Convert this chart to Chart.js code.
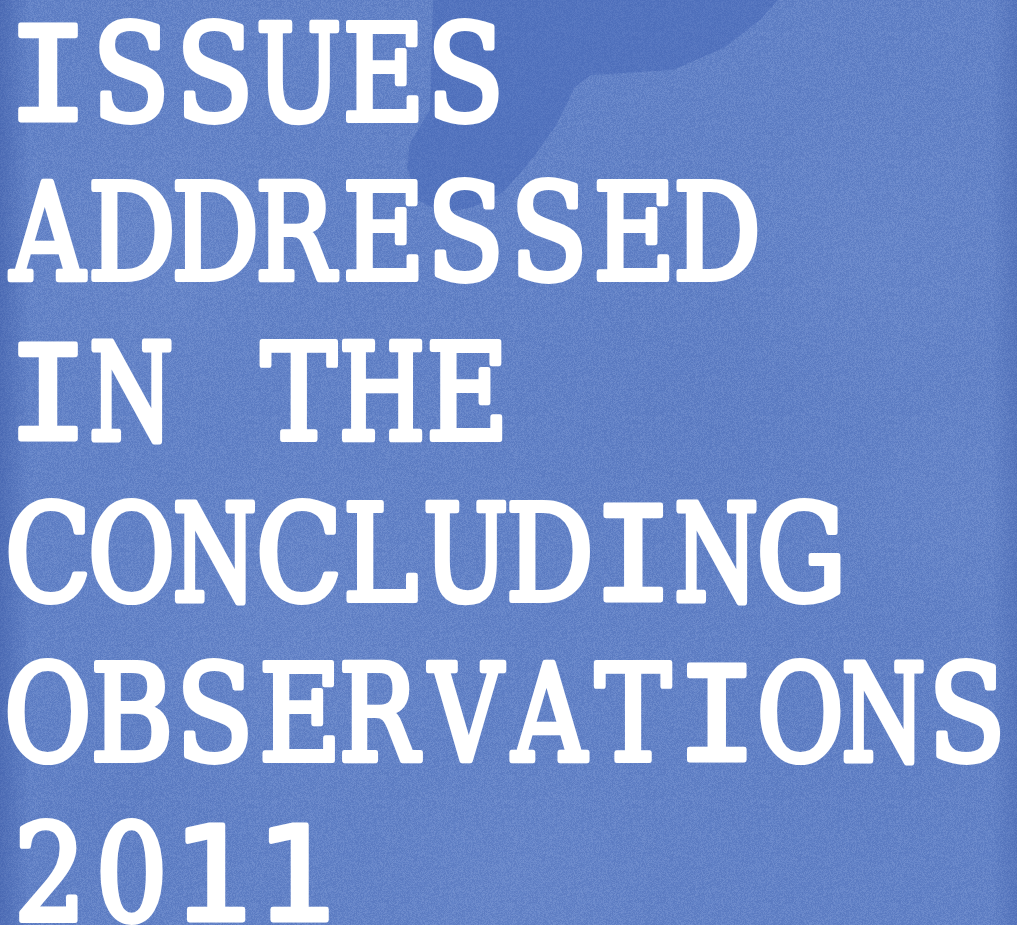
<!DOCTYPE html>
<html>
<head>
<meta charset="utf-8">
<script src="https://cdn.jsdelivr.net/npm/chart.js@4.4.1/dist/chart.umd.min.js"></script>
<style>
  html, body { margin: 0; padding: 0; background: #6282c7; overflow: hidden; }
  #wrap { width: 1017px; height: 925px; }
</style>
</head>
<body>
<div id="wrap"><canvas id="c" width="1017" height="925"></canvas></div>
<script>
// Content of the poster: one text line per entry
const titleLines = ['ISSUES', 'ADDRESSED', 'IN THE', 'CONCLUDING', 'OBSERVATIONS', '2011'];
// No plotted series in this picture
const categories = [];
const seriesValues = [];

function hash(x, y) {
  let h = (x * 374761393 + y * 668265263) | 0;
  h = (h ^ (h >>> 13)) * 1274126177 | 0;
  return ((h ^ (h >>> 16)) >>> 0) / 4294967295;
}

const paperPlugin = {
  id: 'paper',
  beforeDraw(chart) {
    const ctx = chart.ctx, W = chart.width, H = chart.height;
    ctx.save();
    ctx.fillStyle = '#6282c7';
    ctx.fillRect(0, 0, W, H);
    // soft mottling
    const blots = [[150,250,160,0.08,1],[700,420,220,0.06,0],[300,620,200,0.06,1],[850,700,180,0.06,0],[520,880,150,0.06,1],[880,250,170,0.06,1],[120,800,140,0.06,0],[960,500,120,0.05,1]];
    blots.forEach(([x,y,r,a,light]) => {
      const rg = ctx.createRadialGradient(x, y, 0, x, y, r);
      const c = light ? '170,190,235' : '50,80,160';
      rg.addColorStop(0, 'rgba(' + c + ',' + a + ')');
      rg.addColorStop(1, 'rgba(' + c + ',0)');
      ctx.fillStyle = rg; ctx.fillRect(x - r, y - r, 2 * r, 2 * r);
    });
    // paper grain (deterministic hash)
    const tile = document.createElement('canvas');
    tile.width = 128; tile.height = 128;
    const tctx = tile.getContext('2d');
    const img = tctx.createImageData(128, 128);
    for (let y = 0; y < 128; y++) {
      for (let x = 0; x < 128; x++) {
        const v = hash(x, y);
        const i = (y * 128 + x) * 4;
        const light = v > 0.5;
        img.data[i] = light ? 190 : 40;
        img.data[i + 1] = light ? 205 : 70;
        img.data[i + 2] = light ? 240 : 150;
        img.data[i + 3] = Math.round(Math.abs(v - 0.5) * 2 * 38);
      }
    }
    tctx.putImageData(img, 0, 0);
    ctx.fillStyle = ctx.createPattern(tile, 'repeat');
    ctx.fillRect(0, 0, W, H);
    // edge shading
    let g = ctx.createLinearGradient(0, 0, 30, 0);
    g.addColorStop(0, 'rgba(40,70,150,0.35)');
    g.addColorStop(1, 'rgba(40,70,150,0)');
    ctx.fillStyle = g; ctx.fillRect(0, 0, 30, H);
    g = ctx.createLinearGradient(W - 25, 0, W, 0);
    g.addColorStop(0, 'rgba(40,70,150,0)');
    g.addColorStop(1, 'rgba(40,70,150,0.22)');
    ctx.fillStyle = g; ctx.fillRect(W - 25, 0, 25, H);
    // dark watercolour stain at the top
    ctx.beginPath();
    ctx.moveTo(433, 0);
    ctx.lineTo(778, 0);
    ctx.lineTo(760, 20);
    ctx.lineTo(725, 47);
    ctx.lineTo(673, 70);
    ctx.lineTo(591, 75);
    ctx.lineTo(575, 87);
    ctx.lineTo(555, 127);
    ctx.lineTo(526, 167);
    ctx.lineTo(502, 193);
    ctx.lineTo(473, 207);
    ctx.lineTo(445, 213);
    ctx.lineTo(417, 200);
    ctx.lineTo(407, 167);
    ctx.lineTo(410, 143);
    ctx.lineTo(430, 110);
    ctx.closePath();
    ctx.fillStyle = 'rgba(55,88,175,0.35)';
    ctx.fill();
    ctx.restore();
  }
};

const typedTitlePlugin = {
  id: 'typedTitle',
  afterDraw(chart) {
    const ctx = chart.ctx;
    const baselines = [122, 281, 441, 602, 762, 922];
    const pitch = 83.6, firstCenter = 48;
    const serifFont = '130px "DejaVu Serif", serif';
    const monoFont = '130px "DejaVu Sans Mono", monospace';
    const monoChars = 'I1';
    ctx.save();
    ctx.textBaseline = 'alphabetic';
    ctx.textAlign = 'center';
    ctx.font = serifFont;
    const mH = ctx.measureText('H');
    const syS = 96 / mH.actualBoundingBoxAscent;
    const mE = ctx.measureText('E');
    const sxBase = 68 / (mE.actualBoundingBoxLeft + mE.actualBoundingBoxRight);
    ctx.font = monoFont;
    const syM = 96 / ctx.measureText('H').actualBoundingBoxAscent;
    ctx.fillStyle = '#ffffff';
    ctx.strokeStyle = '#ffffff';
    ctx.lineJoin = 'round';
    titleLines.forEach((t, i) => {
      [...t].forEach((ch, k) => {
        if (ch === ' ') return;
        const mono = monoChars.includes(ch);
        ctx.font = mono ? monoFont : serifFont;
        const m = ctx.measureText(ch);
        const w = m.actualBoundingBoxLeft + m.actualBoundingBoxRight;
        const sx = mono ? 56 / w : Math.min(sxBase, 76 / w);
        const sy = mono ? syM : syS;
        const off = (m.actualBoundingBoxRight - m.actualBoundingBoxLeft) / 2;
        ctx.save();
        ctx.translate(firstCenter + pitch * k, baselines[i] - 2);
        ctx.scale(sx, sy);
        ctx.translate(-off, 0);
        ctx.fillText(ch, 0, 0);
        ctx.lineWidth = 5 / sx;
        ctx.strokeText(ch, 0, 0);
        ctx.restore();
      });
    });
    ctx.restore();
  }
};

new Chart(document.getElementById('c'), {
  type: 'bar',
  data: { labels: categories, datasets: [{ data: seriesValues }] },
  options: {
    responsive: false,
    animation: false,
    events: [],
    layout: { padding: 0 },
    plugins: { legend: { display: false }, tooltip: { enabled: false }, title: { display: false } },
    scales: { x: { display: false }, y: { display: false } }
  },
  plugins: [paperPlugin, typedTitlePlugin]
});
</script>
</body>
</html>
